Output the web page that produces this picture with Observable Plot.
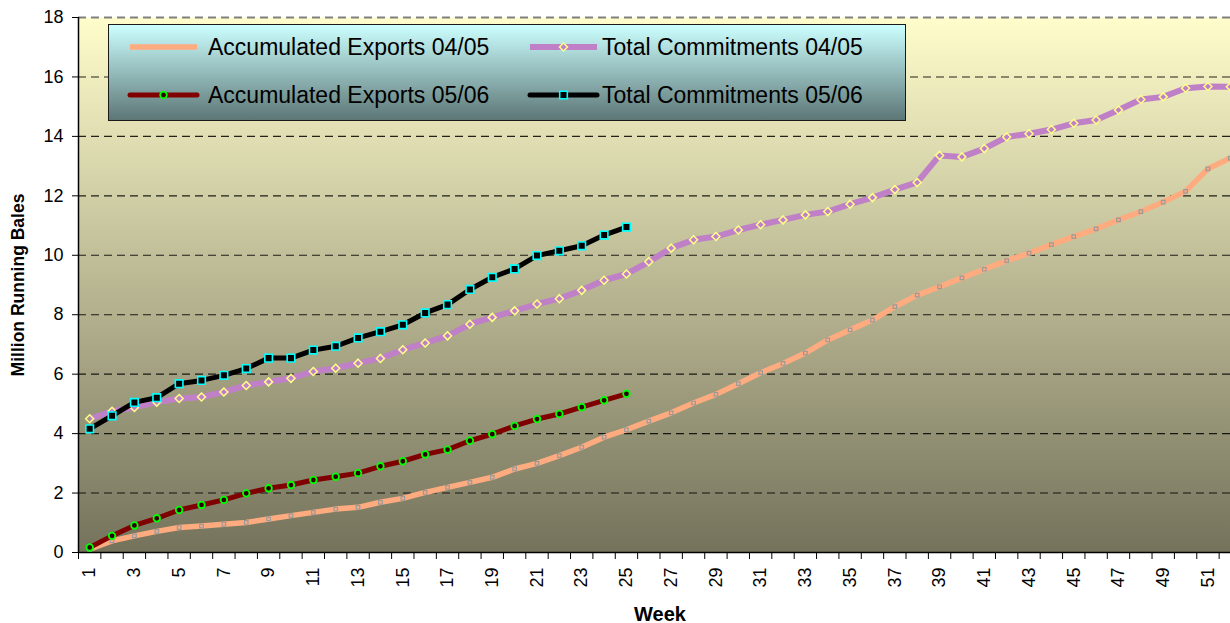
<!DOCTYPE html>
<html><head><meta charset="utf-8">
<script src="https://cdn.jsdelivr.net/npm/d3@7"></script>
<script src="https://cdn.jsdelivr.net/npm/@observablehq/plot@0.6"></script>
<style>
html,body{margin:0;padding:0;background:#fff;overflow:hidden;}
#wrap{position:relative;width:1241px;height:623px;font-family:"Liberation Sans",Arial,sans-serif;}
#legend{position:absolute;left:108px;top:24px;width:798px;height:97px;box-sizing:border-box;border:1.5px solid #1a1a1a;background:linear-gradient(to bottom,#ccffff 0%,#5d7676 100%);}
#legend svg{position:absolute;overflow:visible;}
#legend .lt{position:absolute;font-size:23px;line-height:24px;color:#000;white-space:nowrap;}
g[aria-label="week-label"] text{letter-spacing:3px;}
</style>
</head><body>
<div id="wrap"><div id="chart"></div><div id="legend"></div></div>
<script>
// ---- data ----
const weeks = [1,2,3,4,5,6,7,8,9,10,11,12,13,14,15,16,17,18,19,20,21,22,23,24,25,26,
  27,28,29,30,31,32,33,34,35,36,37,38,39,40,41,42,43,44,45,46,47,48,49,50,51,52];
const xTickLabels = [1,3,5,7,9,11,13,15,17,19,21,23,25,27,29,31,33,35,37,39,41,43,45,47,49,51];
const yTicks = [0,2,4,6,8,10,12,14,16,18];
const seriesNames = ["Accumulated Exports 04/05","Total Commitments 04/05","Accumulated Exports 05/06","Total Commitments 05/06"];
const accumExports0405 = [0.11,0.39,0.56,0.71,0.84,0.89,0.95,1.01,1.13,1.24,
  1.35,1.46,1.52,1.69,1.82,2.02,2.19,2.36,2.53,2.81,
  3.00,3.26,3.54,3.88,4.13,4.42,4.70,5.03,5.32,5.68,
  6.05,6.36,6.71,7.15,7.49,7.82,8.27,8.66,8.94,9.24,
  9.53,9.82,10.07,10.36,10.63,10.89,11.19,11.47,11.79,12.15,
  12.91,13.27];
const totalCommit0405 = [4.50,4.75,4.88,5.06,5.18,5.23,5.40,5.62,5.74,5.86,
  6.09,6.20,6.37,6.53,6.82,7.05,7.29,7.68,7.91,8.13,
  8.36,8.54,8.82,9.16,9.37,9.78,10.24,10.52,10.63,10.85,
  11.03,11.19,11.36,11.47,11.72,11.94,12.21,12.45,13.36,13.31,
  13.59,13.98,14.09,14.23,14.44,14.55,14.89,15.24,15.33,15.62,
  15.68,15.67];
const accumExports0506 = [0.17,0.56,0.91,1.15,1.43,1.60,1.77,1.99,2.16,2.27,
  2.44,2.55,2.67,2.90,3.07,3.30,3.46,3.76,3.98,4.26,
  4.49,4.66,4.89,5.12,5.34];
const totalCommit0506 = [4.16,4.60,5.05,5.21,5.68,5.79,5.96,6.19,6.54,6.54,
  6.81,6.94,7.22,7.43,7.66,8.06,8.34,8.85,9.26,9.54,
  9.99,10.15,10.32,10.68,10.95];

// ---- styles ----
const styles = [
  {line:"#ffab80", width:5.5, symbol:"square", r:2, mStroke:"#9a9a9a", mFill:"none", mWidth:1.2, legendMarker:false},
  {line:"#c080c8", width:6, symbol:"diamond2", r:3.6, mStroke:"#ffff88", mFill:"none", mWidth:1.5, legendMarker:true},
  {line:"#800000", width:5, symbol:"circle", r:3.3, mStroke:"#00ff00", mFill:"#300000", mWidth:1.8, legendMarker:true},
  {line:"#000000", width:5, symbol:"square", r:4.3, mStroke:"#00ffff", mFill:"#000000", mWidth:1.6, legendMarker:true}
];
const values = [accumExports0405, totalCommit0405, accumExports0506, totalCommit0506];
const tables = values.map(v => v.map((y, i) => ({week: weeks[i], value: y})));
const bounds = [0.5, ...weeks.map(w => w + 0.5)];
const gridVals = yTicks.filter(v => v > 0 && v < 18);

const seriesMarks = tables.flatMap((t, i) => [
  Plot.line(t, {x: "week", y: "value", stroke: styles[i].line, strokeWidth: styles[i].width, strokeLinejoin: "round", strokeLinecap: "butt"}),
  Plot.dot(t, {x: "week", y: "value", symbol: styles[i].symbol, r: styles[i].r, stroke: styles[i].mStroke, fill: styles[i].mFill, strokeWidth: styles[i].mWidth})
]);

const FONT = '"Liberation Sans", Arial, sans-serif';
const chart = Plot.plot({
  width: 1241, height: 623,
  marginLeft: 78, marginRight: 0, marginTop: 17, marginBottom: 71,
  style: {fontFamily: FONT, background: "transparent", color: "#000", overflow: "visible"},
  x: {domain: [0.5, 52.5]},
  y: {domain: [0, 18]},
  marks: [
    Plot.frame({fill: "url(#plotbg)", stroke: null}),
    Plot.gridY(gridVals, {stroke: "#000", strokeOpacity: 0.85, strokeDasharray: "8,5", strokeWidth: 1.1}),
    Plot.gridY([18], {stroke: "#808080", strokeOpacity: 1, strokeDasharray: "8,5", strokeWidth: 2}),
    Plot.axisY(yTicks, {tickSize: 6, tickPadding: 9, fontSize: 18, label: null}),
    Plot.axisX(bounds, {tickSize: 7, tickFormat: () => "", label: null}),
    Plot.text(xTickLabels, {x: d => d, frameAnchor: "bottom", dy: 15, rotate: -90, textAnchor: "end", lineAnchor: "middle", fontSize: 18}),
    Plot.ruleX([0.5], {stroke: "#000", strokeWidth: 1.5}),
    Plot.ruleY([0], {stroke: "#000", strokeWidth: 1.5}),
    ...seriesMarks,
    Plot.text(["Million Running Bales"], {frameAnchor: "left", dx: -60, rotate: -90, textAnchor: "middle", lineAnchor: "middle", fontWeight: "bold", fontSize: 17.5, ariaLabel: "y-label"}),
    Plot.text(["Week"], {frameAnchor: "bottom", dy: 62, textAnchor: "middle", lineAnchor: "middle", fontWeight: "bold", fontSize: 20, ariaLabel: "week-label"})
  ]
});
const defs = d3.select(chart).insert("defs", ":first-child");
const grad = defs.append("linearGradient").attr("id", "plotbg").attr("x1", 0).attr("y1", 0).attr("x2", 0).attr("y2", 1);
grad.append("stop").attr("offset", "0%").attr("stop-color", "#fffdcb");
grad.append("stop").attr("offset", "100%").attr("stop-color", "#74725b");
document.getElementById("chart").appendChild(chart);

// ---- legend ----
const legend = d3.select("#legend");
const colSw = [20, 420], colTx = [99, 493], rowY = [22, 70];
seriesNames.forEach((name, i) => {
  const col = i % 2, row = Math.floor(i / 2), s = styles[i];
  const sv = legend.append("svg").attr("width", 69).attr("height", 14)
    .style("left", colSw[col] + "px").style("top", (rowY[row] - 7) + "px");
  sv.append("line").attr("x1", 1).attr("x2", 68).attr("y1", 7).attr("y2", 7)
    .attr("stroke", s.line).attr("stroke-width", s.width).attr("stroke-linecap", i >= 2 ? "round" : "butt");
  if (s.legendMarker) {
    const sym = {square: d3.symbolSquare, circle: d3.symbolCircle, diamond2: d3.symbolDiamond2}[s.symbol];
    sv.append("path").attr("transform", "translate(34.5,7)")
      .attr("d", d3.symbol(sym, Math.PI * s.r * s.r)())
      .attr("fill", s.mFill).attr("stroke", s.mStroke).attr("stroke-width", s.mWidth);
  }
  legend.append("div").attr("class", "lt").text(name)
    .style("left", colTx[col] + "px").style("top", (rowY[row] - 12) + "px");
});
</script>
</body></html>
